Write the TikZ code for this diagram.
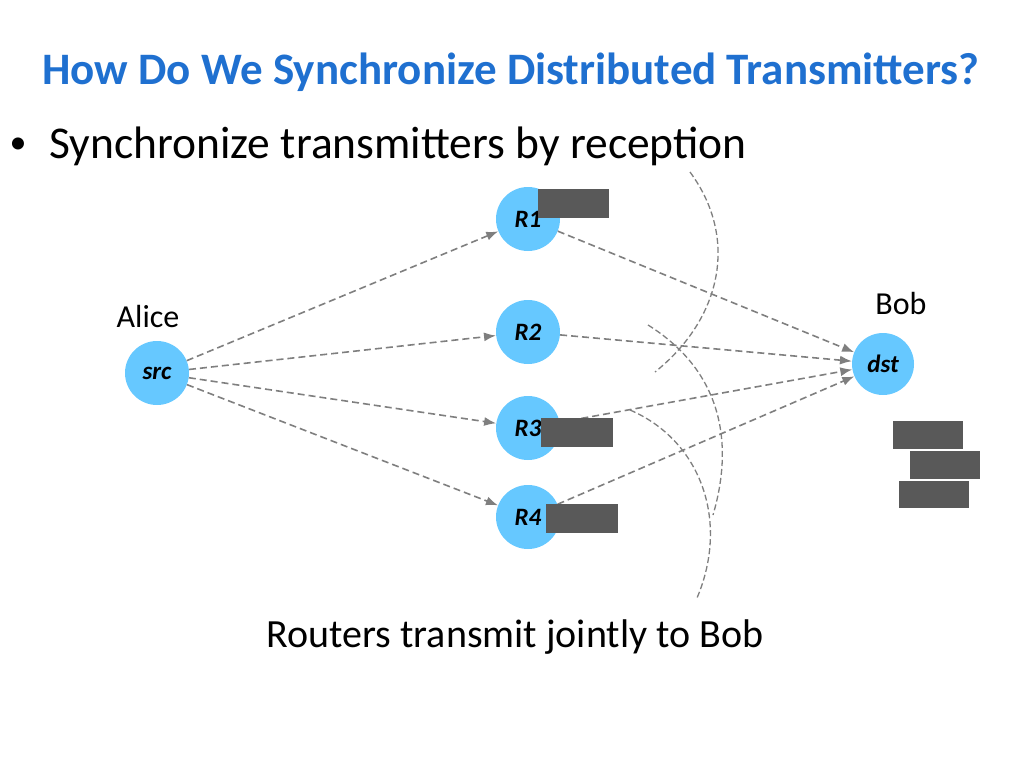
\documentclass[tikz,border=0pt]{standalone}
\usepackage{fontspec}
\setmainfont{Carlito}
\usetikzlibrary{arrows.meta}
\definecolor{nodeblue}{HTML}{66C8FF}
\definecolor{titleblue}{HTML}{1F70D0}
\definecolor{boxgray}{HTML}{595959}
\definecolor{linegray}{HTML}{7F7F7F}
\tikzset{
  rnode/.style={circle,fill=nodeblue,minimum size=64pt,inner sep=0pt,font=\fontsize{25}{27}\selectfont\bfseries\itshape},
  link/.style={draw=linegray,dashed,line width=1.6pt,dash pattern=on 7pt off 4pt,-{Latex[length=12pt,width=9pt]}},
  wave/.style={draw=linegray,dashed,line width=1.3pt,dash pattern=on 6pt off 3pt},
  pkt/.style={fill=boxgray}
}
\begin{document}
\begin{tikzpicture}[x=1pt,y=-1pt]
\useasboundingbox (0,0) rectangle (1024,768);
\node[font=\fontsize{45}{48}\selectfont\bfseries,text=titleblue] (title) at (511,72) {How Do We Synchronize Distributed Transmitters?};
\node[anchor=west,font=\fontsize{34}{36}\selectfont] (dot) at (6,146) {\textbullet};
\node[anchor=west,font=\fontsize{45.5}{48}\selectfont] (bullet) at (46,146) {Synchronize transmitters by reception};
% nodes
\node[rnode] (src) at (157,373) {src};
\node[rnode] (r1) at (528,219) {R1};
\node[rnode] (r2) at (528,332) {R2};
\node[rnode] (r3) at (528,428) {R3};
\node[rnode] (r4) at (528,517) {R4};
\node[rnode,minimum size=62pt] (dst) at (883,364) {dst};
\node[font=\fontsize{32}{34}\selectfont] (alice) at (148,316) {Alice};
\node[font=\fontsize{32}{34}\selectfont] (bob) at (901,303) {Bob};
% links
\foreach \r in {r1,r2,r3,r4} {
  \draw[link] (src) -- (\r);
  \draw[link] (\r) -- (dst);
}
% packets
\fill[pkt] (538,189) rectangle (609,218);
\fill[pkt] (541,418) rectangle (613,447);
\fill[pkt] (546,504) rectangle (618,533);
\fill[pkt] (893,421) rectangle (963,449);
\fill[pkt] (910,451) rectangle (980,479);
\fill[pkt] (899,481) rectangle (969,508);
% waves
\draw[wave] (690,172) .. controls (740,240) and (720,320) .. (655,372);
\draw[wave] (648,325) .. controls (720,370) and (735,440) .. (713,515);
\draw[wave] (630,410) .. controls (700,440) and (730,520) .. (697,598);
\node[font=\fontsize{40}{42}\selectfont] (caption) at (515,637) {Routers transmit jointly to Bob};
\end{tikzpicture}
\end{document}
